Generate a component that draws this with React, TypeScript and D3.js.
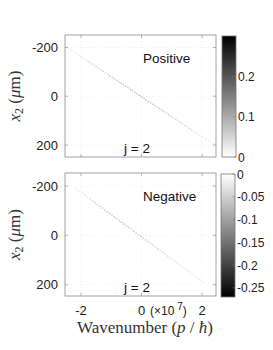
import React from "react";
import * as d3 from "d3";

// x tick values (in units of 1e7) and y tick values (um)
const xTicks = [-2, 0, 2];
const yTicks = [-200, 0, 200];
const posCbTicks = [0, 0.1, 0.2];
const negCbTicks = [0, -0.05, -0.1, -0.15, -0.2, -0.25];

// Positive panel: wavenumber (x1e7), position (um), density
const posP = [-2.48, -2.4, -2.31, -2.22, -2.15, -2.06, -1.98, -1.9, -1.81, -1.73, -1.66, -1.58, -1.5, -1.43, -1.35, -1.27, -1.2, -1.12, -1.05, -0.97, -0.9, -0.82, -0.75, -0.67, -0.6, -0.52, -0.45, -0.37, -0.3, -0.22, -0.15, -0.07, 0.0, 0.08, 0.15, 0.23, 0.3, 0.38, 0.45, 0.53, 0.6, 0.68, 0.75, 0.83, 0.9, 0.98, 1.05, 1.13, 1.2, 1.28, 1.35, 1.43, 1.5, 1.58, 1.65, 1.73, 1.8, 1.9, 2.0, 2.1, 2.22, 2.35];
const posX2 = [-202, -195, -188, -180, -174, -166, -160, -154, -146, -140, -133, -128, -121, -115, -109, -102, -96, -90, -84, -78, -72, -65, -59, -53, -47, -41, -35, -28, -23, -16, -10, -4, 3, 8, 15, 21, 27, 33, 39, 46, 51, 58, 64, 70, 76, 83, 88, 95, 101, 107, 113, 120, 125, 132, 138, 144, 150, 158, 166, 175, 184, 195];
const posVal = [0.02, 0.02, 0.03, 0.03, 0.02, 0.03, 0.04, 0.03, 0.04, 0.05, 0.04, 0.05, 0.05, 0.04, 0.05, 0.06, 0.05, 0.06, 0.07, 0.06, 0.07, 0.06, 0.07, 0.08, 0.07, 0.08, 0.07, 0.08, 0.08, 0.07, 0.07, 0.08, 0.08, 0.07, 0.07, 0.08, 0.07, 0.08, 0.07, 0.06, 0.07, 0.08, 0.07, 0.06, 0.07, 0.06, 0.05, 0.06, 0.05, 0.05, 0.05, 0.04, 0.04, 0.05, 0.04, 0.03, 0.04, 0.03, 0.03, 0.03, 0.02, 0.02];

// Negative panel
const negP = [-2.2, -2.12, -2.04, -1.95, -1.87, -1.79, -1.7, -1.62, -1.54, -1.46, -1.38, -1.3, -1.22, -1.14, -1.06, -0.98, -0.9, -0.82, -0.74, -0.66, -0.58, -0.5, -0.42, -0.34, -0.26, -0.18, -0.1, -0.02, 0.06, 0.14, 0.22, 0.3, 0.38, 0.46, 0.54, 0.62, 0.7, 0.78, 0.86, 0.94, 1.02, 1.1, 1.18, 1.26, 1.34, 1.42, 1.5, 1.58, 1.66, 1.74, 1.82, 1.9, 1.98, 2.06];
const negX2 = [-192, -185, -178, -170, -163, -155, -148, -140, -133, -125, -118, -111, -104, -96, -89, -82, -75, -68, -60, -53, -46, -39, -32, -25, -17, -10, -3, 4, 11, 19, 26, 33, 40, 48, 55, 62, 69, 76, 84, 91, 98, 105, 112, 119, 127, 134, 141, 148, 155, 163, 170, 177, 184, 192];
const negVal = [-0.02, -0.03, -0.02, -0.03, -0.04, -0.03, -0.04, -0.05, -0.06, -0.05, -0.06, -0.07, -0.06, -0.07, -0.07, -0.06, -0.07, -0.06, -0.07, -0.08, -0.07, -0.06, -0.07, -0.06, -0.07, -0.06, -0.05, -0.06, -0.05, -0.06, -0.05, -0.06, -0.05, -0.04, -0.05, -0.04, -0.05, -0.04, -0.04, -0.04, -0.03, -0.04, -0.03, -0.03, -0.04, -0.03, -0.04, -0.03, -0.02, -0.03, -0.02, -0.03, -0.02, -0.02];

const sans = "'Liberation Sans', Arial, sans-serif";
const serif = "'Liberation Serif', 'Times New Roman', serif";

interface PanelProps {
  top: number;
  bottom: number;
  yDomain: [number, number];
  p: number[];
  x2: number[];
  val: number[];
  color: d3.ScaleLinear<string, string>;
  label: string;
  cb: { x: number; top: number; bottom: number; domain: [number, number]; ticks: number[]; id: string };
  showX: boolean;
}

const left = 65;
const right = 216;

const Panel: React.FC<PanelProps> = ({ top, bottom, yDomain, p, x2, val, color, label, cb, showX }) => {
  const x = d3.scaleLinear().domain([-2.53, 2.46]).range([left, right]);
  const y = d3.scaleLinear().domain(yDomain).range([top, bottom]);
  const cy = d3.scaleLinear().domain(cb.domain).range([cb.bottom, cb.top]);
  const stops = d3.range(0, 11).map((i) => i / 10);
  const tk = 3;
  return (
    <g>
      <rect x={left} y={top} width={right - left} height={bottom - top} fill="#fff" />
      {/* grid */}
      {xTicks.map((t) => (
        <line key={"gx" + t} x1={x(t)} x2={x(t)} y1={top} y2={bottom} stroke="#e4e4e4" strokeWidth={0.6} strokeDasharray="1,2" />
      ))}
      {yTicks.map((t) => (
        <line key={"gy" + t} x1={left} x2={right} y1={y(t)} y2={y(t)} stroke="#e4e4e4" strokeWidth={0.6} strokeDasharray="1,2" />
      ))}
      {/* density points */}
      {p.map((d, i) => (
        <rect key={i} x={x(d) - 0.7} y={y(x2[i]) - 0.7} width={1.4} height={1.4} fill={color(val[i])} />
      ))}
      {/* ticks */}
      {xTicks.map((t) => (
        <g key={"tx" + t} stroke="#888" strokeWidth={0.6}>
          <line x1={x(t)} x2={x(t)} y1={bottom} y2={bottom - tk} />
          <line x1={x(t)} x2={x(t)} y1={top} y2={top + tk} />
        </g>
      ))}
      {yTicks.map((t) => (
        <g key={"ty" + t} stroke="#888" strokeWidth={0.6}>
          <line x1={left} x2={left + tk} y1={y(t)} y2={y(t)} />
          <line x1={right} x2={right - tk} y1={y(t)} y2={y(t)} />
        </g>
      ))}
      <rect x={left} y={top} width={right - left} height={bottom - top} fill="none" stroke="#8c8c8c" strokeWidth={0.8} />
      {yTicks.map((t) => (
        <text key={"ly" + t} x={58} y={y(t) + 4.5} textAnchor="end" fontFamily={sans} fontSize={13} fill="#222">
          {t}
        </text>
      ))}
      {showX &&
        xTicks.map((t) => (
          <text key={"lx" + t} x={x(t)} y={315} textAnchor="middle" fontFamily={sans} fontSize={13} fill="#222">
            {t}
          </text>
        ))}
      {showX && (
        <text x={150} y={315} fontFamily={sans} fontSize={12} fill="#222">
          (×10
          <tspan dy={-5} fontSize={10}>
            {" 7"}
          </tspan>
          <tspan dy={5}>)</tspan>
        </text>
      )}
      <text x={143} y={top + 28} fontFamily={sans} fontSize={13.5} fill="#111">
        {label}
      </text>
      <text x={124} y={bottom - 4.5} fontFamily={sans} fontSize={13.5} fill="#111">
        j = 2
      </text>
      {/* y label */}
      <text
        transform={`translate(20,${(top + bottom) / 2}) rotate(-90)`}
        textAnchor="middle"
        fontFamily={serif}
        fontSize={17}
        fill="#333"
      >
        <tspan fontStyle="italic">x</tspan>
        <tspan fontSize={12} dy={3}>2</tspan>
        <tspan dy={-3}> (</tspan>
        <tspan fontStyle="italic">μ</tspan>
        <tspan>m)</tspan>
      </text>
      {/* colorbar */}
      <defs>
        <linearGradient id={cb.id} x1="0" y1="1" x2="0" y2="0">
          {stops.map((s) => (
            <stop key={s} offset={s} stopColor={color(cb.domain[0] + s * (cb.domain[1] - cb.domain[0]))} />
          ))}
        </linearGradient>
      </defs>
      <rect x={cb.x} y={cb.top} width={14} height={cb.bottom - cb.top} fill={`url(#${cb.id})`} stroke="#777" strokeWidth={0.8} />
      {cb.ticks.map((t) => (
        <g key={"cb" + t}>
          <line x1={cb.x + 14} x2={cb.x + 11.5} y1={cy(t)} y2={cy(t)} stroke="#777" strokeWidth={0.6} />
          <text x={cb.x + 16} y={cy(t) + 4.5} fontFamily={sans} fontSize={12} fill="#222">
            {t}
          </text>
        </g>
      ))}
    </g>
  );
};

const App: React.FC = () => {
  const posColor = d3.scaleLinear<string>().domain([0, 0.3]).range(["#ffffff", "#000000"]).clamp(true);
  const negColor = d3.scaleLinear<string>().domain([-0.27, 0]).range(["#000000", "#ffffff"]).clamp(true);
  return (
    <svg width={273} height={350} style={{ position: "absolute", left: 0, top: 0, background: "#fff" }}>
      <Panel
        top={35}
        bottom={157}
        yDomain={[-251, 249]}
        p={posP}
        x2={posX2}
        val={posVal}
        color={posColor}
        label="Positive"
        cb={{ x: 222, top: 36, bottom: 157, domain: [0, 0.3], ticks: posCbTicks, id: "cbpos" }}
        showX={false}
      />
      <Panel
        top={173}
        bottom={296}
        yDomain={[-253, 246]}
        p={negP}
        x2={negX2}
        val={negVal}
        color={negColor}
        label="Negative"
        cb={{ x: 221, top: 174, bottom: 297, domain: [-0.27, 0], ticks: negCbTicks, id: "cbneg" }}
        showX={true}
      />
      <text x={145} y={333} textAnchor="middle" fontFamily={serif} fontSize={17} fill="#333">
        Wavenumber (<tspan fontStyle="italic">p</tspan> / <tspan fontStyle="italic">ħ</tspan>)
      </text>
    </svg>
  );
};

export default App;
